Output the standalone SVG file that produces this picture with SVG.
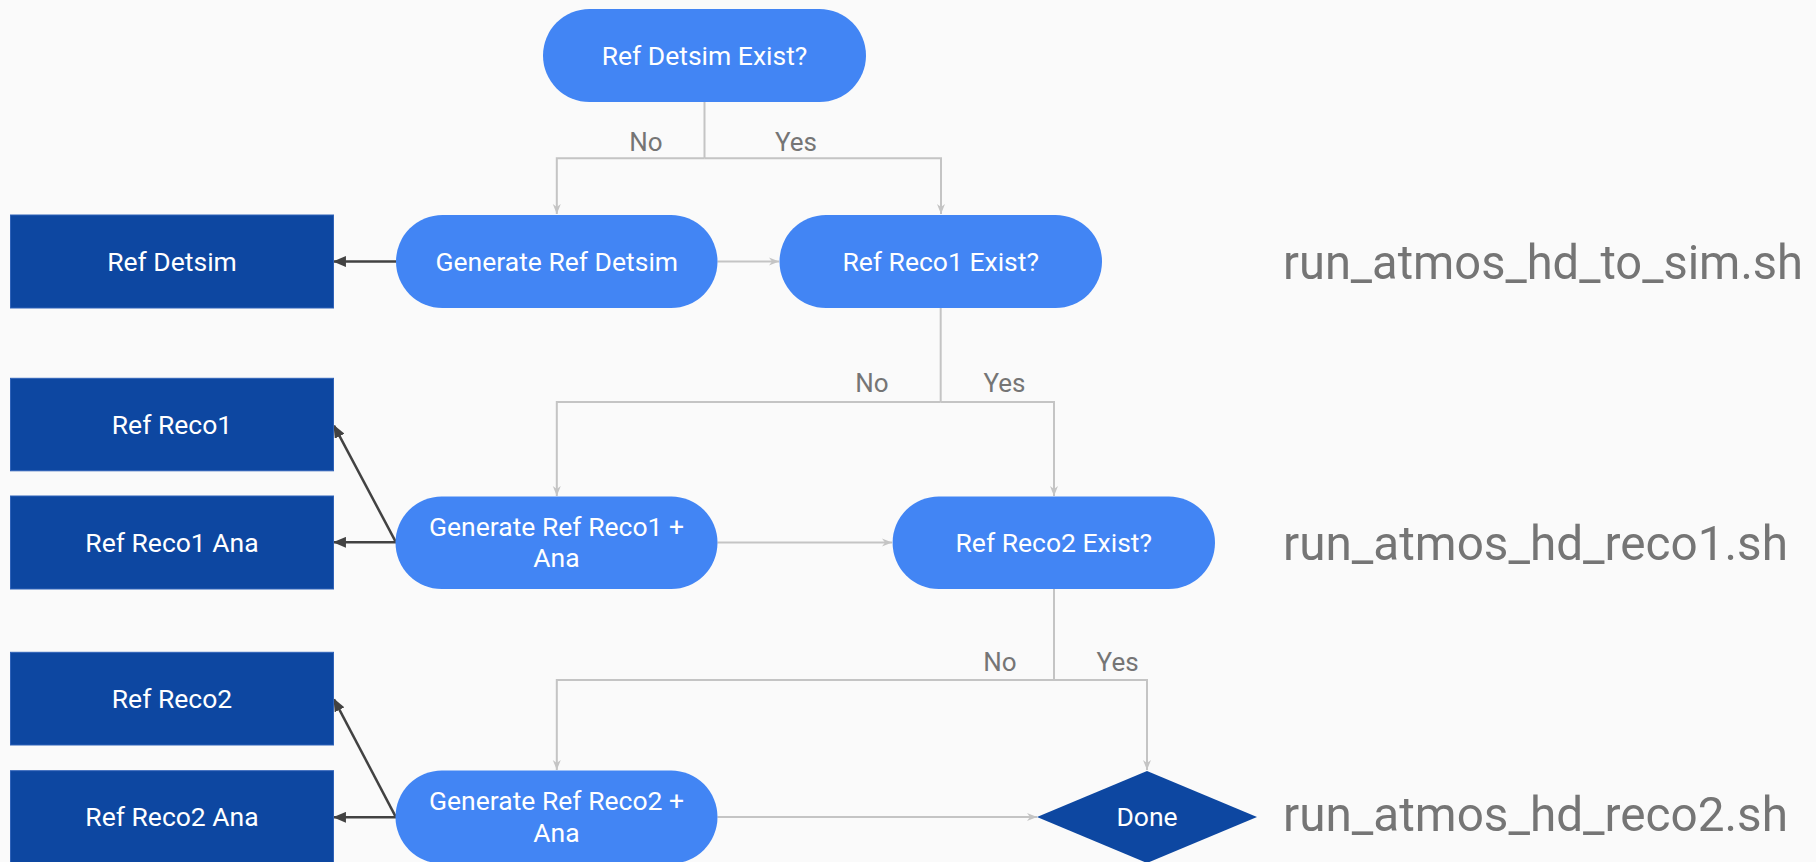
<svg xmlns="http://www.w3.org/2000/svg" width="1816" height="862" viewBox="0 0 1816 862">
  <style>
    .pill { fill: #4285f4; }
    .box { fill: #0d47a1; stroke: #2f62b8; stroke-width: 1; }
    .node-text { font-family: Roboto, "Liberation Sans", sans-serif; font-size: 26.5px; fill: #ffffff; text-anchor: middle; }
    .flow { fill: none; stroke: #c4c4c4; stroke-width: 2; }
    .out { fill: none; stroke: #424242; stroke-width: 2.5; }
    .label { font-family: Roboto, "Liberation Sans", sans-serif; font-size: 26px; fill: #757575; text-anchor: middle; }
    .script { font-family: Roboto, "Liberation Sans", sans-serif; font-size: 49px; fill: #757575; }
  </style>
  <defs>
    <marker id="flow-head" viewBox="0 0 10 10" refX="10" refY="5" markerWidth="10" markerHeight="10" markerUnits="userSpaceOnUse" orient="auto">
      <path d="M0,1 L10,5 L0,9 L3,5 Z" fill="#c4c4c4"/>
    </marker>
    <marker id="out-head" viewBox="0 0 12 10" refX="11" refY="5" markerWidth="13" markerHeight="11" markerUnits="userSpaceOnUse" orient="auto">
      <path d="M0,0 L12,5 L0,10 Z" fill="#424242"/>
    </marker>
  </defs>

  <rect width="1816" height="862" fill="#fafafa"/>

  <!-- decision / process flow connectors -->
  <g id="connectors">
    <path class="flow" d="M704.5,102 V158.3"/>
    <path class="flow" d="M704.5,158.3 H556.8 V214" marker-end="url(#flow-head)"/>
    <path class="flow" d="M704.5,158.3 H941 V214" marker-end="url(#flow-head)"/>
    <path class="flow" d="M717.5,261.5 H779" marker-end="url(#flow-head)"/>

    <path class="flow" d="M940.7,308 V402"/>
    <path class="flow" d="M940.7,402 H556.8 V496" marker-end="url(#flow-head)"/>
    <path class="flow" d="M940.7,402 H1054 V496" marker-end="url(#flow-head)"/>
    <path class="flow" d="M717.5,542.5 H892" marker-end="url(#flow-head)"/>

    <path class="flow" d="M1054,589 V680"/>
    <path class="flow" d="M1054,680 H556.8 V770" marker-end="url(#flow-head)"/>
    <path class="flow" d="M1054,680 H1147 V770" marker-end="url(#flow-head)"/>
    <path class="flow" d="M717.5,817 H1037" marker-end="url(#flow-head)"/>

    <!-- produced outputs -->
    <path class="out" d="M396,261.5 H334" marker-end="url(#out-head)"/>
    <path class="out" d="M396,542.3 H334" marker-end="url(#out-head)"/>
    <path class="out" d="M396,542.3 L334,425.7" marker-end="url(#out-head)"/>
    <path class="out" d="M396,817.3 H334" marker-end="url(#out-head)"/>
    <path class="out" d="M396,817.3 L334,699.3" marker-end="url(#out-head)"/>

    <text class="label" x="646" y="151">No</text>
    <text class="label" x="796" y="151">Yes</text>
    <text class="label" x="872" y="392">No</text>
    <text class="label" x="1004.5" y="392">Yes</text>
    <text class="label" x="1000" y="671">No</text>
    <text class="label" x="1117.6" y="671">Yes</text>
  </g>

  <g id="ref-detsim-exist">
    <rect class="pill" x="543" y="9" width="323" height="93" rx="46.5"/>
    <text class="node-text" x="704.5" y="64.7">Ref Detsim Exist?</text>
  </g>

  <g id="generate-ref-detsim">
    <rect class="pill" x="396" y="215" width="321.5" height="93" rx="46.5"/>
    <text class="node-text" x="556.8" y="270.7">Generate Ref Detsim</text>
  </g>

  <g id="ref-reco1-exist">
    <rect class="pill" x="779.5" y="215" width="322.5" height="93" rx="46.5"/>
    <text class="node-text" x="940.7" y="270.7">Ref Reco1 Exist?</text>
  </g>

  <g id="generate-ref-reco1">
    <rect class="pill" x="395.5" y="496.5" width="322" height="92.5" rx="46.25"/>
    <text class="node-text" x="556.5" y="535.7">Generate Ref Reco1 +</text>
    <text class="node-text" x="556.5" y="567.3">Ana</text>
  </g>

  <g id="ref-reco2-exist">
    <rect class="pill" x="892.6" y="496.5" width="322.4" height="92.5" rx="46.25"/>
    <text class="node-text" x="1053.8" y="551.7">Ref Reco2 Exist?</text>
  </g>

  <g id="generate-ref-reco2">
    <rect class="pill" x="395.5" y="770.5" width="322" height="93" rx="46.5"/>
    <text class="node-text" x="556.5" y="810.2">Generate Ref Reco2 +</text>
    <text class="node-text" x="556.5" y="841.8">Ana</text>
  </g>

  <g id="done">
    <polygon points="1147,771 1257,817 1147,863 1037,817" fill="#0d47a1"/>
    <text class="node-text" x="1147" y="826.2">Done</text>
  </g>

  <g id="ref-detsim">
    <rect class="box" x="10.5" y="215" width="323" height="93"/>
    <text class="node-text" x="172" y="270.7">Ref Detsim</text>
  </g>

  <g id="ref-reco1">
    <rect class="box" x="10.5" y="378.3" width="323" height="92.5"/>
    <text class="node-text" x="172" y="433.8">Ref Reco1</text>
  </g>

  <g id="ref-reco1-ana">
    <rect class="box" x="10.5" y="496" width="323" height="93"/>
    <text class="node-text" x="172" y="551.7">Ref Reco1 Ana</text>
  </g>

  <g id="ref-reco2">
    <rect class="box" x="10.5" y="652.3" width="323" height="92.7"/>
    <text class="node-text" x="172" y="707.9">Ref Reco2</text>
  </g>

  <g id="ref-reco2-ana">
    <rect class="box" x="10.5" y="770.7" width="323" height="93"/>
    <text class="node-text" x="172" y="826.4">Ref Reco2 Ana</text>
  </g>

  <g id="scripts">
    <text class="script" x="1283" y="279.4" textLength="520" lengthAdjust="spacingAndGlyphs">run_atmos_hd_to_sim.sh</text>
    <text class="script" x="1283" y="560" textLength="505" lengthAdjust="spacingAndGlyphs">run_atmos_hd_reco1.sh</text>
    <text class="script" x="1283" y="831.4" textLength="505" lengthAdjust="spacingAndGlyphs">run_atmos_hd_reco2.sh</text>
  </g>
</svg>
